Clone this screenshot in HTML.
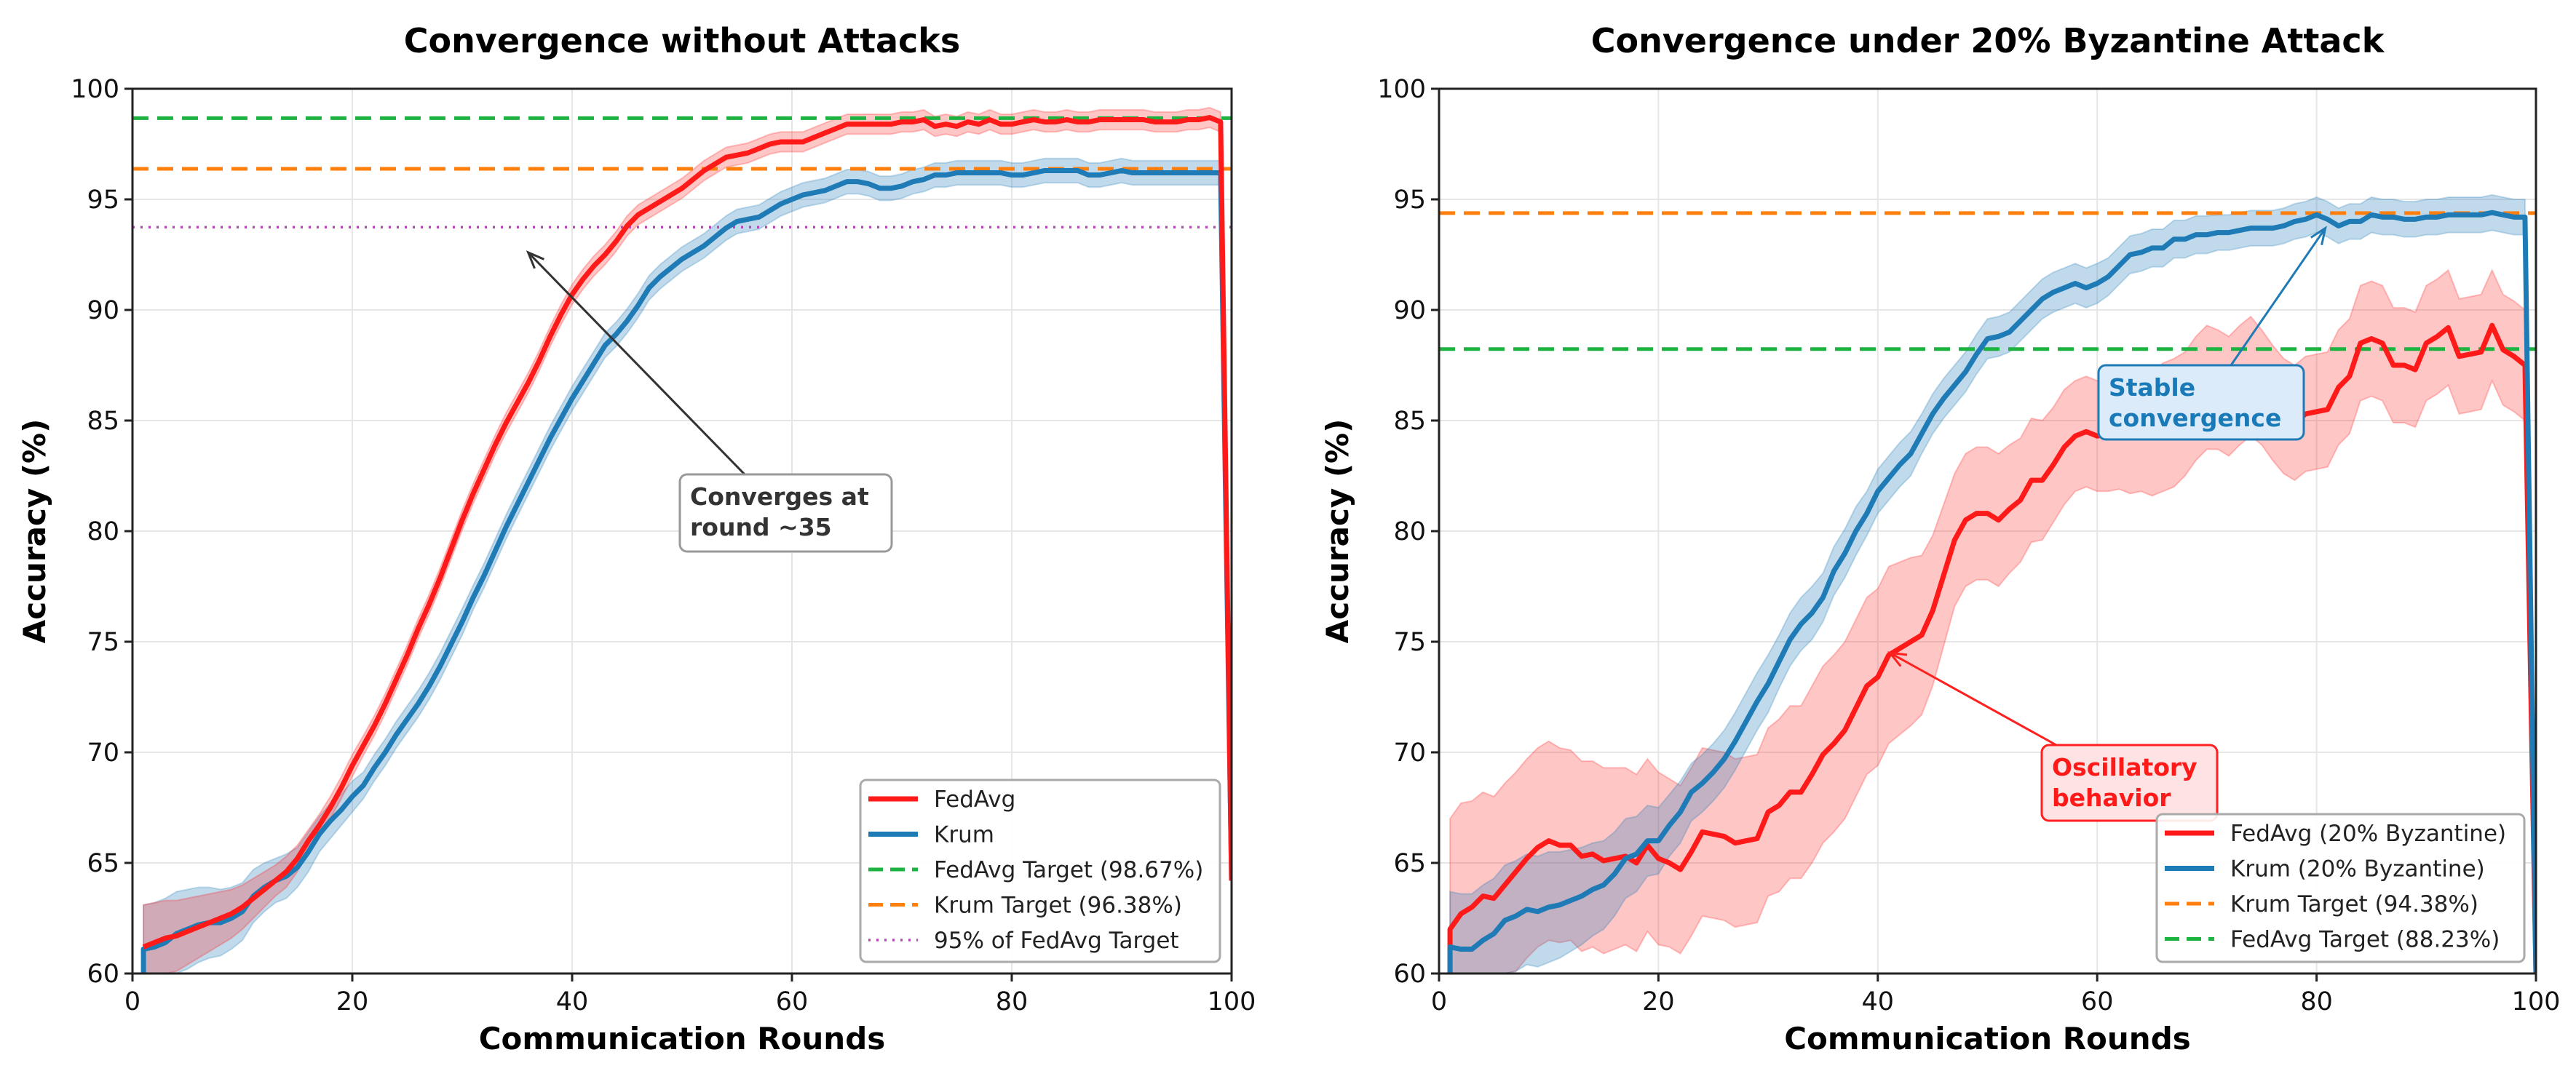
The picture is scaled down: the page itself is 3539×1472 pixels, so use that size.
<!DOCTYPE html>
<html><head><meta charset="utf-8">
<style>
html,body{margin:0;padding:0;background:#fff;width:3539px;height:1472px;overflow:hidden;}
svg{display:block;font-family:"DejaVu Sans","Liberation Sans",sans-serif;}
</style></head>
<body>
<svg id="chart" width="3539" height="1472" viewBox="0 0 3539 1472" xmlns="http://www.w3.org/2000/svg"></svg>
<script>
// ---------- DATA ----------
const rounds = Array.from({length:100},(_,i)=>i+1);
const xTicks = [0,20,40,60,80,100];
const yTicks = [60,65,70,75,80,85,90,95,100];

// Left panel: without attacks
const fedavgClean = [
61.2,61.4,61.6,61.7,61.9,62.1,62.3,62.5,62.7,63.0,
63.4,63.8,64.2,64.6,65.2,66.0,66.7,67.5,68.4,69.4,
70.3,71.2,72.2,73.3,74.4,75.6,76.7,77.9,79.2,80.5,
81.7,82.8,83.9,84.9,85.8,86.7,87.7,88.8,89.8,90.7,
91.4,92.0,92.5,93.1,93.8,94.3,94.6,94.9,95.2,95.5,
95.9,96.3,96.6,96.9,97.0,97.1,97.3,97.5,97.6,97.6,
97.6,97.8,98.0,98.2,98.4,98.4,98.4,98.4,98.4,98.5,
98.5,98.6,98.3,98.4,98.3,98.5,98.4,98.6,98.4,98.4,
98.5,98.6,98.5,98.5,98.6,98.5,98.5,98.6,98.6,98.6,
98.6,98.6,98.5,98.5,98.5,98.6,98.6,98.7,98.5,64.2];
const krumClean = [
61.1,61.2,61.4,61.8,62.0,62.2,62.3,62.3,62.5,62.8,
63.5,63.9,64.2,64.4,64.8,65.5,66.3,66.9,67.4,68.0,
68.5,69.3,70.0,70.8,71.5,72.2,73.0,73.9,74.9,75.9,
77.0,78.0,79.1,80.2,81.2,82.2,83.2,84.2,85.1,86.0,
86.8,87.6,88.4,88.9,89.5,90.2,91.0,91.5,91.9,92.3,
92.6,92.9,93.3,93.7,94.0,94.1,94.2,94.5,94.8,95.0,
95.2,95.3,95.4,95.6,95.8,95.8,95.7,95.5,95.5,95.6,
95.8,95.9,96.1,96.1,96.2,96.2,96.2,96.2,96.2,96.1,
96.1,96.2,96.3,96.3,96.3,96.3,96.1,96.1,96.2,96.3,
96.2,96.2,96.2,96.2,96.2,96.2,96.2,96.2,96.2,64.2];
const fedavgCleanBand = [
1.9,1.8,1.7,1.6,1.5,1.4,1.3,1.2,1.1,1.0,
0.9,0.8,0.7,0.7,0.6,0.5,0.5,0.5,0.5,0.5,
0.45,0.45,0.45,0.45,0.45,0.45,0.45,0.45,0.45,0.45,
0.45,0.45,0.45,0.45,0.45,0.45,0.45,0.45,0.45,0.45,
0.45,0.45,0.45,0.45,0.45,0.45,0.45,0.45,0.45,0.45,
0.45,0.45,0.45,0.45,0.45,0.45,0.45,0.45,0.45,0.45,
0.45,0.45,0.45,0.45,0.45,0.45,0.45,0.45,0.45,0.45,
0.45,0.45,0.45,0.45,0.45,0.45,0.45,0.45,0.45,0.45,
0.45,0.45,0.45,0.45,0.45,0.45,0.45,0.45,0.45,0.45,
0.45,0.45,0.45,0.45,0.45,0.45,0.45,0.45,0.45,0.45];
const krumCleanBand = [
2.0,2.0,2.0,1.9,1.8,1.7,1.6,1.5,1.4,1.3,
1.2,1.1,1.0,1.0,0.9,0.9,0.8,0.8,0.7,0.7,
0.6,0.6,0.6,0.6,0.6,0.6,0.6,0.6,0.6,0.6,
0.55,0.55,0.55,0.55,0.55,0.55,0.55,0.55,0.55,0.55,
0.55,0.55,0.55,0.55,0.55,0.55,0.55,0.55,0.55,0.55,
0.55,0.55,0.55,0.55,0.55,0.55,0.55,0.55,0.55,0.55,
0.55,0.55,0.55,0.55,0.55,0.55,0.55,0.55,0.55,0.55,
0.55,0.55,0.55,0.55,0.55,0.55,0.55,0.55,0.55,0.55,
0.55,0.55,0.55,0.55,0.55,0.55,0.55,0.55,0.55,0.55,
0.55,0.55,0.55,0.55,0.55,0.55,0.55,0.55,0.55,0.55];
const cleanTargets = [98.67, 96.38, 93.74];

// Right panel: 20% Byzantine
const fedavgByz = [
62.0,62.7,63.0,63.5,63.4,64.0,64.6,65.2,65.7,66.0,
65.8,65.8,65.3,65.4,65.1,65.2,65.3,65.0,65.8,65.2,
65.0,64.7,65.5,66.4,66.3,66.2,65.9,66.0,66.1,67.3,
67.6,68.2,68.2,69.0,69.9,70.4,71.0,72.0,73.0,73.4,
74.4,74.7,75.0,75.3,76.4,78.0,79.6,80.5,80.8,80.8,
80.5,81.0,81.4,82.3,82.3,83.0,83.8,84.3,84.5,84.3,
84.4,84.6,84.5,84.6,84.4,84.7,84.9,85.3,86.0,86.5,
86.4,86.1,86.6,87.0,86.5,85.8,85.2,84.9,85.3,85.4,
85.5,86.5,87.0,88.5,88.7,88.5,87.5,87.5,87.3,88.5,
88.8,89.2,87.9,88.0,88.1,89.3,88.2,87.9,87.5,58.0];
const krumByz = [
61.2,61.1,61.1,61.5,61.8,62.4,62.6,62.9,62.8,63.0,
63.1,63.3,63.5,63.8,64.0,64.5,65.2,65.4,66.0,66.0,
66.7,67.3,68.2,68.6,69.1,69.7,70.5,71.4,72.3,73.1,
74.1,75.1,75.8,76.3,77.0,78.2,79.0,80.0,80.8,81.8,
82.4,83.0,83.5,84.4,85.3,86.0,86.6,87.2,88.0,88.7,
88.8,89.0,89.5,90.0,90.5,90.8,91.0,91.2,91.0,91.2,
91.5,92.0,92.5,92.6,92.8,92.8,93.2,93.2,93.4,93.4,
93.5,93.5,93.6,93.7,93.7,93.7,93.8,94.0,94.1,94.3,
94.1,93.8,94.0,94.0,94.3,94.2,94.2,94.1,94.1,94.2,
94.2,94.3,94.3,94.3,94.3,94.4,94.3,94.2,94.2,58.0];
const fedavgByzBand = [
5.0,5.0,4.8,4.7,4.6,4.6,4.5,4.5,4.5,4.5,
4.4,4.3,4.3,4.2,4.2,4.1,4.0,4.0,3.9,3.9,
3.8,3.8,3.8,3.8,3.8,3.8,3.8,3.8,3.8,3.8,
3.9,3.9,3.9,4.0,4.0,4.0,4.0,4.0,4.0,4.0,
4.0,3.9,3.8,3.6,3.4,3.2,3.0,3.0,3.0,3.0,
3.0,2.9,2.8,2.8,2.7,2.6,2.6,2.5,2.5,2.5,
2.6,2.7,2.8,2.8,2.8,2.9,2.9,2.8,2.8,2.8,
2.7,2.7,2.7,2.7,2.6,2.6,2.6,2.6,2.6,2.6,
2.6,2.6,2.6,2.6,2.6,2.6,2.6,2.6,2.6,2.6,
2.6,2.6,2.6,2.6,2.6,2.5,2.5,2.5,2.5,2.5];
const krumByzBand = [
2.5,2.5,2.5,2.5,2.5,2.5,2.5,2.5,2.5,2.5,
2.4,2.3,2.2,2.1,2.0,1.9,1.8,1.7,1.6,1.5,
1.4,1.4,1.3,1.3,1.3,1.3,1.3,1.3,1.3,1.3,
1.2,1.2,1.2,1.2,1.1,1.1,1.1,1.1,1.0,1.0,
1.0,1.0,1.0,0.9,0.9,0.9,0.9,0.9,0.9,0.9,
0.9,0.9,0.9,0.9,0.9,0.9,0.9,0.9,0.9,0.9,
0.85,0.85,0.85,0.85,0.85,0.85,0.85,0.85,0.85,0.85,
0.8,0.8,0.8,0.8,0.8,0.8,0.8,0.8,0.8,0.8,
0.8,0.8,0.8,0.8,0.8,0.8,0.8,0.8,0.8,0.8,
0.8,0.8,0.8,0.8,0.8,0.8,0.8,0.8,0.8,0.8];
const byzTargets = [94.38, 88.23];

// ---------- DRAWING ----------
const NS = 'http://www.w3.org/2000/svg';
const svg = document.getElementById('chart');
function mk(tag, attrs, parent){
  const e = document.createElementNS(NS, tag);
  for (const k in attrs) e.setAttribute(k, attrs[k]);
  (parent||svg).appendChild(e);
  return e;
}
const RED = '#ff1a1a', BLUE = '#1f7bb6', GREEN = '#1db340', ORANGE = '#ff7f0e', PURPLE = '#bb44bb';

function panel(cfg){
  const g = mk('g', {});
  
  
  const X = v => cfg.x0 + (v - 0) / 100 * (cfg.x1 - cfg.x0);
  const Y = v => { const c = Math.max(60, Math.min(100, v)); return cfg.y1 - (c - 60) / 40 * (cfg.y1 - cfg.y0); };
  const clipId = cfg.name + '-clip';
  const defs = mk('defs', {}, g);
  const cp = mk('clipPath', {id: clipId}, defs);
  mk('rect', {x: cfg.x0, y: cfg.y0, width: cfg.x1 - cfg.x0, height: cfg.y1 - cfg.y0}, cp);

  xTicks.forEach(t => {
    const l = mk('line', {x1: X(t), x2: X(t), y1: cfg.y0, y2: cfg.y1, stroke: '#e6e6e6', 'stroke-width': 2}, g);
    
    
  });
  yTicks.forEach(t => {
    const l = mk('line', {x1: cfg.x0, x2: cfg.x1, y1: Y(t), y2: Y(t), stroke: '#e6e6e6', 'stroke-width': 2}, g);
    
    
  });

  const plot = mk('g', {'clip-path': 'url(#' + clipId + ')'}, g);
  cfg.series.forEach(s => {
    let d = '';
    rounds.forEach((r, i) => { d += (i ? 'L' : 'M') + X(r) + ',' + Y(s.values[i] + s.band[i]); });
    for (let i = rounds.length - 1; i >= 0; i--) d += 'L' + X(rounds[i]) + ',' + Y(s.values[i] - s.band[i]);
    d += 'Z';
    const p = mk('path', {d: d, fill: s.color, 'fill-opacity': s.bandAlpha, stroke: s.color, 'stroke-opacity': 0.25, 'stroke-width': 2}, plot);
    
    
  });
  cfg.targets.forEach(t => {
    const l = mk('line', {x1: cfg.x0, x2: cfg.x1, y1: Y(t.value), y2: Y(t.value), stroke: t.color, 'stroke-width': t.dotted ? 3.5 : 5, 'stroke-dasharray': t.dotted ? '3,8' : '22,12'}, plot);
    
    
  });
  cfg.series.forEach(s => {
    let d = s.start != null ? 'M' + X(rounds[0]) + ',' + Y(s.start) : '';
    rounds.forEach((r, i) => { d += ((i || s.start != null) ? 'L' : 'M') + X(r) + ',' + Y(s.values[i]); });
    const p = mk('path', {d: d, fill: 'none', stroke: s.color, 'stroke-width': 7, 'stroke-linejoin': 'round'}, plot);
    
    
  });

  const fr = mk('rect', {x: cfg.x0, y: cfg.y0, width: cfg.x1 - cfg.x0, height: cfg.y1 - cfg.y0, fill: 'none', stroke: '#222', 'stroke-width': 3}, g);
  
  

  xTicks.forEach(t => {
    mk('line', {x1: X(t), x2: X(t), y1: cfg.y1, y2: cfg.y1 + 11, stroke: '#222', 'stroke-width': 3}, g);
    const tx = mk('text', {x: X(t), y: cfg.y1 + 50, 'font-size': 35, 'text-anchor': 'middle', fill: '#111'}, g);
    tx.textContent = t;
    
    
  });
  yTicks.forEach(t => {
    mk('line', {x1: cfg.x0 - 11, x2: cfg.x0, y1: Y(t), y2: Y(t), stroke: '#222', 'stroke-width': 3}, g);
    const tx = mk('text', {x: cfg.x0 - 18, y: Y(t) + 12, 'font-size': 35, 'text-anchor': 'end', fill: '#111'}, g);
    tx.textContent = t;
    
    
  });

  const title = mk('text', {x: (cfg.x0 + cfg.x1) / 2, y: 72, 'font-size': 46, 'font-weight': 'bold', 'text-anchor': 'middle', fill: '#000'}, g);
  title.textContent = cfg.title;
  
  
  const xl = mk('text', {x: (cfg.x0 + cfg.x1) / 2, y: 1442, 'font-size': 42, 'font-weight': 'bold', 'text-anchor': 'middle', fill: '#000'}, g);
  xl.textContent = 'Communication Rounds';
  
  
  const yx = cfg.ylabelX, yy = (cfg.y0 + cfg.y1) / 2;
  const yl = mk('text', {x: yx, y: yy, 'font-size': 42, 'font-weight': 'bold', 'text-anchor': 'middle', fill: '#000', transform: 'rotate(-90 ' + yx + ' ' + yy + ')'}, g);
  yl.textContent = 'Accuracy (%)';
  
  

  cfg.notes.forEach(n => {
    const ax = X(n.ax), ay = Y(n.ay);
    const ag = mk('g', {}, g);
    
    
    const dx = ax - n.tx, dy = ay - n.ty, len = Math.hypot(dx, dy), ux = dx / len, uy = dy / len;
    mk('line', {x1: n.tx, y1: n.ty, x2: ax - ux * 4, y2: ay - uy * 4, stroke: n.arrow, 'stroke-width': 3}, ag);
    const hx = ax - ux * 22, hy = ay - uy * 22;
    mk('path', {d: 'M' + (hx - uy * 9) + ',' + (hy + ux * 9) + 'L' + ax + ',' + ay + 'L' + (hx + uy * 9) + ',' + (hy - ux * 9), fill: 'none', stroke: n.arrow, 'stroke-width': 3}, ag);
    mk('rect', {x: n.bx, y: n.by, width: n.bw, height: n.bh, rx: 10, fill: n.fill, stroke: n.border, 'stroke-width': 3}, ag);
    n.lines.forEach((t, i) => {
      const tt = mk('text', {x: n.bx + 14, y: n.by + 42 + i * 42, 'font-size': 33, 'font-weight': 'bold', fill: n.textColor}, ag);
      tt.textContent = t;
    });
  });

  const L = cfg.legend;
  const lg = mk('g', {}, g);
  
  
  mk('rect', {x: L.x, y: L.y, width: L.w, height: L.h, rx: 8, fill: '#fff', 'fill-opacity': 0.9, stroke: '#aaa', 'stroke-width': 3}, lg);
  L.items.forEach((it, i) => {
    const ry = L.y + 26 + i * 48.5;
    const eg = mk('g', {}, lg);
    
    
    mk('line', {x1: L.x + 11, x2: L.x + 79, y1: ry, y2: ry, stroke: it.color, 'stroke-width': it.style === 'solid' ? 7 : (it.style === 'dot' ? 3.5 : 5), 'stroke-dasharray': it.style === 'dash' ? '20,10' : (it.style === 'dot' ? '3,8' : 'none')}, eg);
    const t = mk('text', {x: L.x + 101, y: ry + 11, 'font-size': 31, fill: '#222'}, eg);
    t.textContent = it.label;
  });
}

panel({
  name: 'panel-without-attacks', title: 'Convergence without Attacks',
  x0: 182, x1: 1692, y0: 122, y1: 1338, ylabelX: 62,
  series: [
    {key: 'krum', values: krumClean, band: krumCleanBand, color: BLUE, bandAlpha: 0.28, start: 50},
    {key: 'fedavg', values: fedavgClean, band: fedavgCleanBand, color: RED, bandAlpha: 0.25, start: null}
  ],
  targets: [
    {key: 'fedavg-target-line', value: cleanTargets[0], color: GREEN},
    {key: 'krum-target-line', value: cleanTargets[1], color: ORANGE},
    {key: 'fedavg-95pct-line', value: cleanTargets[2], color: PURPLE, dotted: true}
  ],
  notes: [
    {key: 'converges-annotation', ax: 36, ay: 92.6, tx: 1024, ty: 653, bx: 934, by: 652, bw: 291, bh: 106,
     fill: '#fff', border: '#999', textColor: '#333', arrow: '#333', lines: ['Converges at', 'round ~35']}
  ],
  legend: {x: 1182, y: 1072, w: 494, h: 250, items: [
    {label: 'FedAvg', color: RED, style: 'solid'},
    {label: 'Krum', color: BLUE, style: 'solid'},
    {label: 'FedAvg Target (98.67%)', color: GREEN, style: 'dash'},
    {label: 'Krum Target (96.38%)', color: ORANGE, style: 'dash'},
    {label: '95% of FedAvg Target', color: PURPLE, style: 'dot'}
  ]}
});

panel({
  name: 'panel-byzantine-attack', title: 'Convergence under 20% Byzantine Attack',
  x0: 1977, x1: 3484, y0: 122, y1: 1338, ylabelX: 1852,
  series: [
    {key: 'fedavg-byzantine', values: fedavgByz, band: fedavgByzBand, color: RED, bandAlpha: 0.25, start: 50},
    {key: 'krum-byzantine', values: krumByz, band: krumByzBand, color: BLUE, bandAlpha: 0.28, start: 50}
  ],
  targets: [
    {key: 'krum-target-line', value: byzTargets[0], color: ORANGE},
    {key: 'fedavg-target-line', value: byzTargets[1], color: GREEN}
  ],
  notes: [
    {key: 'stable-convergence-annotation', ax: 80.8, ay: 93.7, tx: 3065, ty: 502, bx: 2883, by: 502, bw: 282, bh: 102,
     fill: '#dcebfa', border: '#1f7bb6', textColor: '#1a7ab8', arrow: '#1f7bb6', lines: ['Stable', 'convergence']},
    {key: 'oscillatory-annotation', ax: 41.1, ay: 74.5, tx: 2825, ty: 1024, bx: 2805, by: 1024, bw: 241, bh: 104,
     fill: '#fde3e3', border: '#ff2020', textColor: '#ff1a1a', arrow: '#ff2020', lines: ['Oscillatory', 'behavior']}
  ],
  legend: {x: 2963, y: 1119, w: 505, h: 203, items: [
    {label: 'FedAvg (20% Byzantine)', color: RED, style: 'solid'},
    {label: 'Krum (20% Byzantine)', color: BLUE, style: 'solid'},
    {label: 'Krum Target (94.38%)', color: ORANGE, style: 'dash'},
    {label: 'FedAvg Target (88.23%)', color: GREEN, style: 'dash'}
  ]}
});
</script>
</body></html>
